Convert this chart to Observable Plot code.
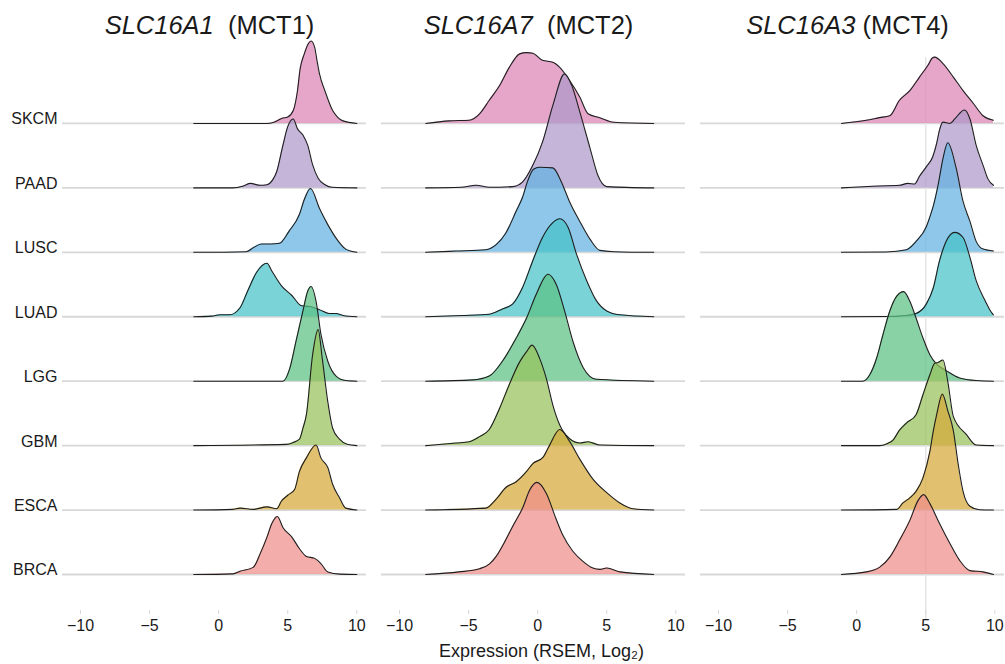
<!DOCTYPE html>
<html>
<head>
<meta charset="utf-8">
<script src="https://cdn.jsdelivr.net/npm/d3@7"></script>
<script src="https://cdn.jsdelivr.net/npm/@observablehq/plot@0.6"></script>
<style>
  html, body { margin: 0; padding: 0; background: #fff; }
  #chart { width: 1005px; height: 664px; }
</style>
</head>
<body>
<div id="chart"></div>
<script>
// ---- categories ----
const cancers = ["SKCM", "PAAD", "LUSC", "LUAD", "LGG", "GBM", "ESCA", "BRCA"]; // top to bottom
const colors = ["#DD84B6", "#AE98CA", "#63B2E1", "#45C2C7", "#5CC083", "#97C25B", "#D6A937", "#EE8D89"];
const genes = ["SLC16A1", "SLC16A7", "SLC16A3"];
const proteins = ["MCT1", "MCT2", "MCT4"];
const titleGaps = ["\u00a0\u00a0", "\u00a0\u00a0", "\u00a0"];
const xTicks = [-10, -5, 0, 5, 10];
const xLabel = "Expression (RSEM, Log\u2082)";
const refLine = [{gene: "SLC16A3", value: 5}];

// ---- density ridges: [expression, scaled density] ----
const SLC16A1 = {
  SKCM: [[-1.8,0],[3.5,0],[4.0,0.02],[4.6,0.08],[5.0,0.1],[5.4,0.2],[5.7,0.5],[5.9,0.85],[6.2,1.08],[6.5,1.24],[6.7,1.28],[6.95,1.18],[7.1,1.0],[7.3,0.77],[7.7,0.5],[8.25,0.2],[8.6,0.1],[9.0,0.04],[10,0]],
  PAAD: [[-1.8,0],[1.0,0],[1.8,0.03],[2.3,0.07],[3.0,0.04],[3.5,0.05],[3.9,0.12],[4.2,0.25],[4.65,0.66],[5.0,0.95],[5.4,1.07],[5.7,0.92],[6.1,0.82],[6.45,0.66],[6.8,0.36],[7.2,0.15],[7.7,0.05],[8.2,0.01],[10,0]],
  LUSC: [[-1.8,0],[2.0,0.01],[2.5,0.07],[3.1,0.13],[3.8,0.13],[4.4,0.14],[5.1,0.33],[5.85,0.59],[6.2,0.82],[6.65,0.99],[7.3,0.68],[7.9,0.43],[8.5,0.22],[9.2,0.05],[10,0]],
  LUAD: [[-1.8,0],[-0.5,0.01],[0.1,0.03],[0.8,0.03],[1.55,0.14],[2.1,0.4],[2.75,0.69],[3.5,0.83],[3.85,0.71],[4.55,0.48],[5.3,0.33],[6.0,0.17],[6.6,0.16],[7.3,0.11],[8.0,0.05],[8.5,0.05],[9.0,0.02],[10,0]],
  LGG:  [[-1.8,0],[4.65,0],[5.15,0.2],[5.6,0.62],[6.1,1.09],[6.45,1.4],[6.7,1.47],[7.05,1.24],[7.4,0.73],[7.9,0.31],[8.5,0.08],[9.2,0.01],[10,0]],
  GBM:  [[-1.8,0],[4.9,0.02],[5.4,0.05],[5.85,0.1],[6.1,0.27],[6.35,0.48],[6.8,1.41],[7.2,1.8],[7.5,1.35],[7.9,0.68],[8.25,0.27],[8.75,0.1],[9.3,0.02],[10,0]],
  ESCA: [[-1.8,0],[1.0,0.01],[1.55,0.03],[2.5,0.01],[3.5,0.05],[4.2,0.02],[4.55,0.14],[5.0,0.23],[5.5,0.32],[5.85,0.6],[6.35,0.81],[7.05,1.01],[7.4,0.81],[7.9,0.66],[8.25,0.4],[8.75,0.19],[9.2,0.03],[10,0]],
  BRCA: [[-1.8,0],[1.05,0.01],[1.55,0.05],[2.5,0.11],[3.0,0.32],[3.5,0.58],[3.85,0.79],[4.25,0.9],[4.65,0.73],[5.3,0.58],[5.85,0.4],[6.35,0.28],[6.95,0.25],[7.4,0.17],[7.9,0.04],[8.75,0.005],[10,0]]
};
const SLC16A7 = {
  SKCM: [[-8.1,0],[-6.4,0.04],[-4.95,0.05],[-4.2,0.15],[-3.5,0.36],[-2.75,0.59],[-2.05,0.87],[-1.3,1.08],[-0.8,1.1],[-0.35,1.09],[0.35,0.98],[1.1,0.95],[1.6,0.87],[2.3,0.67],[3.05,0.41],[3.65,0.15],[4.5,0.09],[5.5,0.02],[8.4,0]],
  PAAD: [[-8.1,0],[-5.5,0.01],[-4.45,0.04],[-3.5,0.01],[-1.8,0.02],[-1.1,0.09],[-0.35,0.35],[0.35,0.71],[1.1,1.28],[1.95,1.77],[2.45,1.6],[3.05,1.18],[3.8,0.61],[4.35,0.2],[5.0,0.02],[8.4,0]],
  LUSC: [[-8.1,0],[-5.9,0.02],[-3.75,0.04],[-3.0,0.12],[-2.3,0.3],[-1.55,0.64],[-1.1,0.85],[-0.7,1.12],[-0.3,1.29],[0.15,1.32],[1.1,1.31],[1.7,1.1],[2.3,0.79],[3.05,0.48],[3.8,0.2],[4.5,0.03],[5.5,0.01],[8.4,0]],
  LUAD: [[-8.1,0],[-5.45,0.02],[-3.5,0.04],[-2.55,0.12],[-1.8,0.2],[-1.1,0.45],[-0.35,0.87],[0.35,1.23],[1.1,1.46],[1.6,1.52],[2.2,1.39],[2.8,0.98],[3.55,0.56],[4.25,0.25],[5.0,0.09],[5.95,0.03],[8.4,0]],
  LGG:  [[-8.1,0],[-4.7,0.02],[-3.5,0.08],[-2.55,0.31],[-1.55,0.67],[-0.8,0.98],[-0.1,1.35],[0.75,1.66],[1.35,1.5],[1.95,1.09],[2.55,0.62],[3.3,0.21],[4.25,0.03],[8.4,0]],
  GBM:  [[-8.1,0],[-5.9,0.04],[-4.95,0.06],[-4.2,0.14],[-3.5,0.25],[-2.75,0.58],[-2.05,0.95],[-1.3,1.3],[-0.8,1.46],[-0.4,1.56],[0.15,1.35],[0.63,1.04],[1.1,0.63],[1.6,0.32],[2.3,0.11],[3.05,0.04],[3.65,0.06],[4.5,0.01],[8.4,0]],
  ESCA: [[-8.1,0],[-3.75,0.03],[-3.0,0.17],[-2.3,0.35],[-1.55,0.44],[-0.8,0.6],[-0.35,0.72],[0.4,0.82],[0.85,1.0],[1.6,1.25],[2.3,1.07],[3.05,0.79],[4.0,0.48],[5.0,0.27],[5.95,0.11],[6.9,0.02],[8.4,0]],
  BRCA: [[-8.1,0],[-5.7,0.04],[-4.2,0.09],[-3.5,0.16],[-3.0,0.28],[-2.4,0.5],[-1.8,0.75],[-1.05,1.05],[-0.6,1.3],[-0.05,1.43],[0.65,1.25],[1.3,0.88],[1.8,0.62],[2.55,0.36],[3.3,0.2],[4.0,0.1],[4.5,0.08],[5.0,0.1],[5.95,0.04],[8.4,0]]
};
const SLC16A3 = {
  SKCM: [[-1.1,0],[0.7,0.05],[1.65,0.09],[2.4,0.12],[3.1,0.36],[3.85,0.51],[4.55,0.72],[5.15,0.9],[5.5,1.02],[5.65,1.03],[6.25,0.93],[7.0,0.72],[7.7,0.51],[8.45,0.31],[9.15,0.12],[9.9,0.05]],
  PAAD: [[-1.1,0],[1.65,0.03],[3.1,0.04],[3.7,0.07],[4.2,0.06],[4.55,0.18],[5.05,0.33],[5.5,0.48],[5.8,0.7],[6.0,0.9],[6.25,1.02],[6.75,1.0],[7.1,1.07],[7.8,1.21],[8.2,1.07],[8.65,0.66],[9.15,0.35],[9.5,0.14],[9.9,0.04]],
  LUSC: [[-1.1,0],[2.15,0.005],[3.6,0.04],[4.3,0.17],[5.05,0.4],[5.3,0.55],[5.55,0.72],[5.9,1.05],[6.25,1.46],[6.6,1.7],[7.2,1.31],[7.7,0.79],[8.2,0.48],[8.65,0.17],[9.15,0.05],[9.9,0.02]],
  LUAD: [[-1.1,0],[2.15,0.005],[3.6,0.02],[4.3,0.05],[5.05,0.2],[5.55,0.45],[6.0,0.87],[6.5,1.18],[7.1,1.31],[7.7,1.23],[8.2,0.92],[8.65,0.56],[9.3,0.25],[9.75,0.07],[9.9,0.03]],
  LGG:  [[-1.1,0],[0.45,0],[0.95,0.1],[1.45,0.36],[1.9,0.72],[2.4,1.09],[2.9,1.32],[3.4,1.39],[3.85,1.24],[4.3,0.98],[4.8,0.67],[5.3,0.41],[5.8,0.26],[6.5,0.16],[7.45,0.05],[8.65,0.01],[9.9,0]],
  GBM:  [[-1.1,0],[1.65,0],[2.2,0.03],[2.65,0.09],[3.1,0.24],[3.6,0.35],[4.3,0.48],[4.8,0.79],[5.3,1.1],[5.65,1.28],[5.9,1.29],[6.25,1.33],[6.6,0.99],[7.0,0.45],[7.95,0.17],[8.65,0.01],[9.9,0]],
  ESCA: [[-1.1,0],[2.9,0.01],[3.35,0.11],[3.85,0.19],[4.3,0.29],[4.8,0.5],[5.3,0.91],[5.55,1.23],[5.8,1.49],[6.2,1.8],[6.6,1.54],[7.0,1.23],[7.35,0.71],[7.7,0.29],[8.2,0.06],[8.9,0.005],[9.9,0]],
  BRCA: [[-1.1,0],[0.7,0.04],[1.65,0.11],[2.4,0.27],[3.1,0.53],[3.85,0.84],[4.45,1.15],[4.85,1.24],[5.3,1.1],[6.0,0.79],[6.75,0.48],[7.45,0.22],[8.2,0.06],[9.15,0.04],[9.9,0]]
};

// ---- tables built from the arrays ----
const densities = {SLC16A1, SLC16A7, SLC16A3};
const nRows = cancers.length;
const ridgePoints = [];
genes.forEach(g => cancers.forEach((c, i) => densities[g][c].forEach(([x, h]) =>
  ridgePoints.push({gene: g, cancer: c, row: nRows - 1 - i, x, h}))));
const rowLabels = cancers.map((c, i) => ({gene: genes[0], name: c, row: nRows - 1 - i}));
const titles = genes.map((g, i) => ({gene: g, text: g + titleGaps[i] + "(" + proteins[i] + ")"}));
const axisTitle = [{gene: genes[1], text: xLabel}];

const ridgeMarks = cancers.flatMap((c, i) => {
  const d = ridgePoints.filter(p => p.cancer === c);
  return [
    Plot.area(d, {x1: "x", y1: "row", y2: p => p.row + p.h, fx: "gene",
      fill: colors[i], fillOpacity: 0.72, curve: "monotone-x"}),
    Plot.line(d, {x: "x", y: p => p.row + p.h, fx: "gene",
      stroke: "#1e1e1e", strokeWidth: 1.1, curve: "monotone-x"})
  ];
});

const chart = Plot.plot({
  width: 1005,
  height: 664,
  marginLeft: 62,
  marginRight: 0,
  marginTop: 45,
  marginBottom: 54,
  style: {fontFamily: "'Liberation Sans', Arial, Helvetica, sans-serif", fontSize: "16px", color: "#1a1a1a", background: "#fff"},
  fx: {domain: genes, paddingInner: 0.046, paddingOuter: 0, axis: null, label: null},
  x: {domain: [-11.3, 10.7], axis: null},
  y: {domain: [-0.559, 8.21], axis: null},
  marks: [
    Plot.ruleY(d3.range(nRows), {stroke: "#d8d8d8", strokeWidth: 1.8}),
    Plot.ruleX(refLine, {x: "value", fx: "gene", y1: -0.72, y2: 8.02, stroke: "#e4e4e4", strokeWidth: 1.5}),
    ...ridgeMarks,
    Plot.text(rowLabels, {fx: "gene", y: "row", text: "name", frameAnchor: "left",
      textAnchor: "end", lineAnchor: "bottom", dx: -5, dy: 1, fontSize: 16, fill: "#1a1a1a"}),
    Plot.text(titles, {fx: "gene", text: "text", frameAnchor: "top", lineAnchor: "middle",
      dy: -20, dx: -5, fontSize: 25.5, fill: "#1a1a1a"}),
    Plot.text(axisTitle, {fx: "gene", text: "text", frameAnchor: "bottom", lineAnchor: "middle",
      dy: 41, dx: 8, fontSize: 18, fill: "#1a1a1a"}),
    Plot.axisX({ticks: xTicks, tickSize: 4, tickPadding: 5, fontSize: 16,
      stroke: "#d8d8d8", fill: "#1a1a1a",
      tickFormat: d => d < 0 ? "\u2212" + (-d) : String(d)})
  ]
});

// italicize gene symbols in the titles
chart.querySelectorAll("text").forEach(t => {
  const m = t.textContent.match(/^(SLC16A\d)(\s+\(MCT\d\))$/);
  if (!m) return;
  t.textContent = "";
  const a = document.createElementNS("http://www.w3.org/2000/svg", "tspan");
  a.setAttribute("font-style", "italic");
  a.textContent = m[1];
  const b = document.createElementNS("http://www.w3.org/2000/svg", "tspan");
  b.textContent = m[2];
  t.appendChild(a); t.appendChild(b);
});

document.getElementById("chart").appendChild(chart);
</script>
</body>
</html>
